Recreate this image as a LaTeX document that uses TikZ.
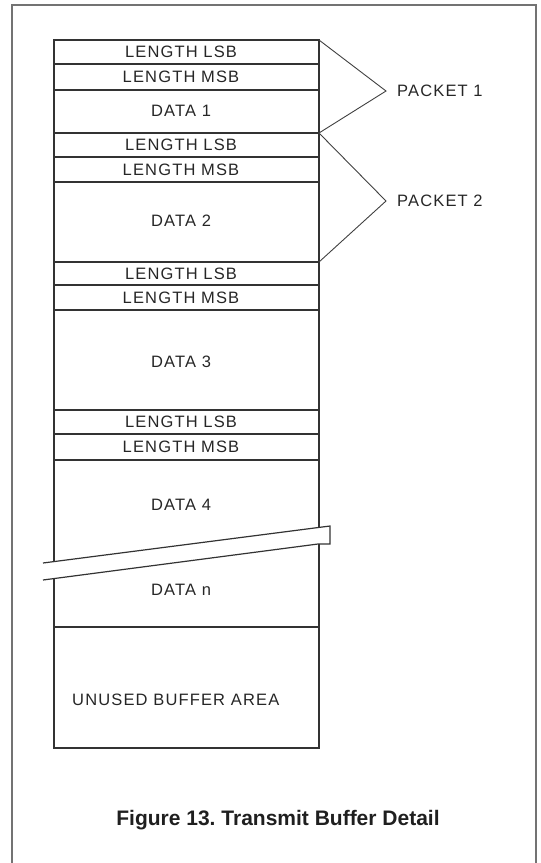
\documentclass[tikz,border=0pt]{standalone}
\usepackage{fontspec}
\setmainfont{Liberation Sans}
\newfontfamily\diagfont[LetterSpace=7]{Liberation Sans}
\begin{document}
\frenchspacing
\begin{tikzpicture}[x=1pt,y=-1pt,
  lbl/.style={font=\diagfont\fontsize{16.5}{18}\selectfont, text=black!85, inner sep=0pt},
  boxline/.style={draw=black!80, line width=1.2pt},
  brkline/.style={draw=black!75, line width=0.9pt},
  frameline/.style={draw=black!55, line width=1.6pt}]
\useasboundingbox (0,0) rectangle (541,863);
% outer frame
\draw[frameline] (12,870) -- (12,5) -- (536,5) -- (536,870);
% buffer outline
\draw[boxline] (54,561.6) -- (54,40) -- (319,40) -- (319,527.4);
\draw[boxline] (54,578.6) -- (54,748) -- (319,748) -- (319,544);
% dividers
\foreach \yy in {64,90,133,157,182,262,285,310,410,434,460,627}
  \draw[boxline] (54,\yy) -- (319,\yy);
% break marks
\draw[boxline] (43,563) -- (330,526) -- (330,544) -- (318,544) -- (43,580);
% labels
\node[lbl] (l1) at (181,52) {LENGTH LSB};
\node[lbl] (m1) at (181,77) {LENGTH MSB};
\node[lbl] (d1) at (181,111) {DATA 1};
\node[lbl] (l2) at (181,145) {LENGTH LSB};
\node[lbl] (m2) at (181,169.5) {LENGTH MSB};
\node[lbl] (d2) at (181,221) {DATA 2};
\node[lbl] (l3) at (181,273.5) {LENGTH LSB};
\node[lbl] (m3) at (181,297.5) {LENGTH MSB};
\node[lbl] (d3) at (181,362) {DATA 3};
\node[lbl] (l4) at (181,422) {LENGTH LSB};
\node[lbl] (m4) at (181,447) {LENGTH MSB};
\node[lbl] (d4) at (181,505) {DATA 4};
\node[lbl] (dn) at (181,590) {DATA n};
\node[lbl, anchor=west] (un) at (72,700) {UNUSED BUFFER AREA};
% packet brackets
\coordinate (p1a) at (319,40);
\coordinate (p1t) at (386,91);
\coordinate (p1b) at (319,133);
\coordinate (p2t) at (386,201);
\coordinate (p2b) at (319,262);
\draw[brkline] (p1a) -- (p1t) -- (p1b);
\draw[brkline] (p1b) -- (p2t) -- (p2b);
\node[lbl, anchor=west] (pk1) at (397,91) {PACKET 1};
\node[lbl, anchor=west] (pk2) at (397,201) {PACKET 2};
% caption
\node[font=\bfseries\fontsize{21}{24}\selectfont, text=black!88, inner sep=0pt, anchor=base] (cap) at (278,825.5) {Figure 13. Transmit Buffer Detail};
\end{tikzpicture}
\end{document}
